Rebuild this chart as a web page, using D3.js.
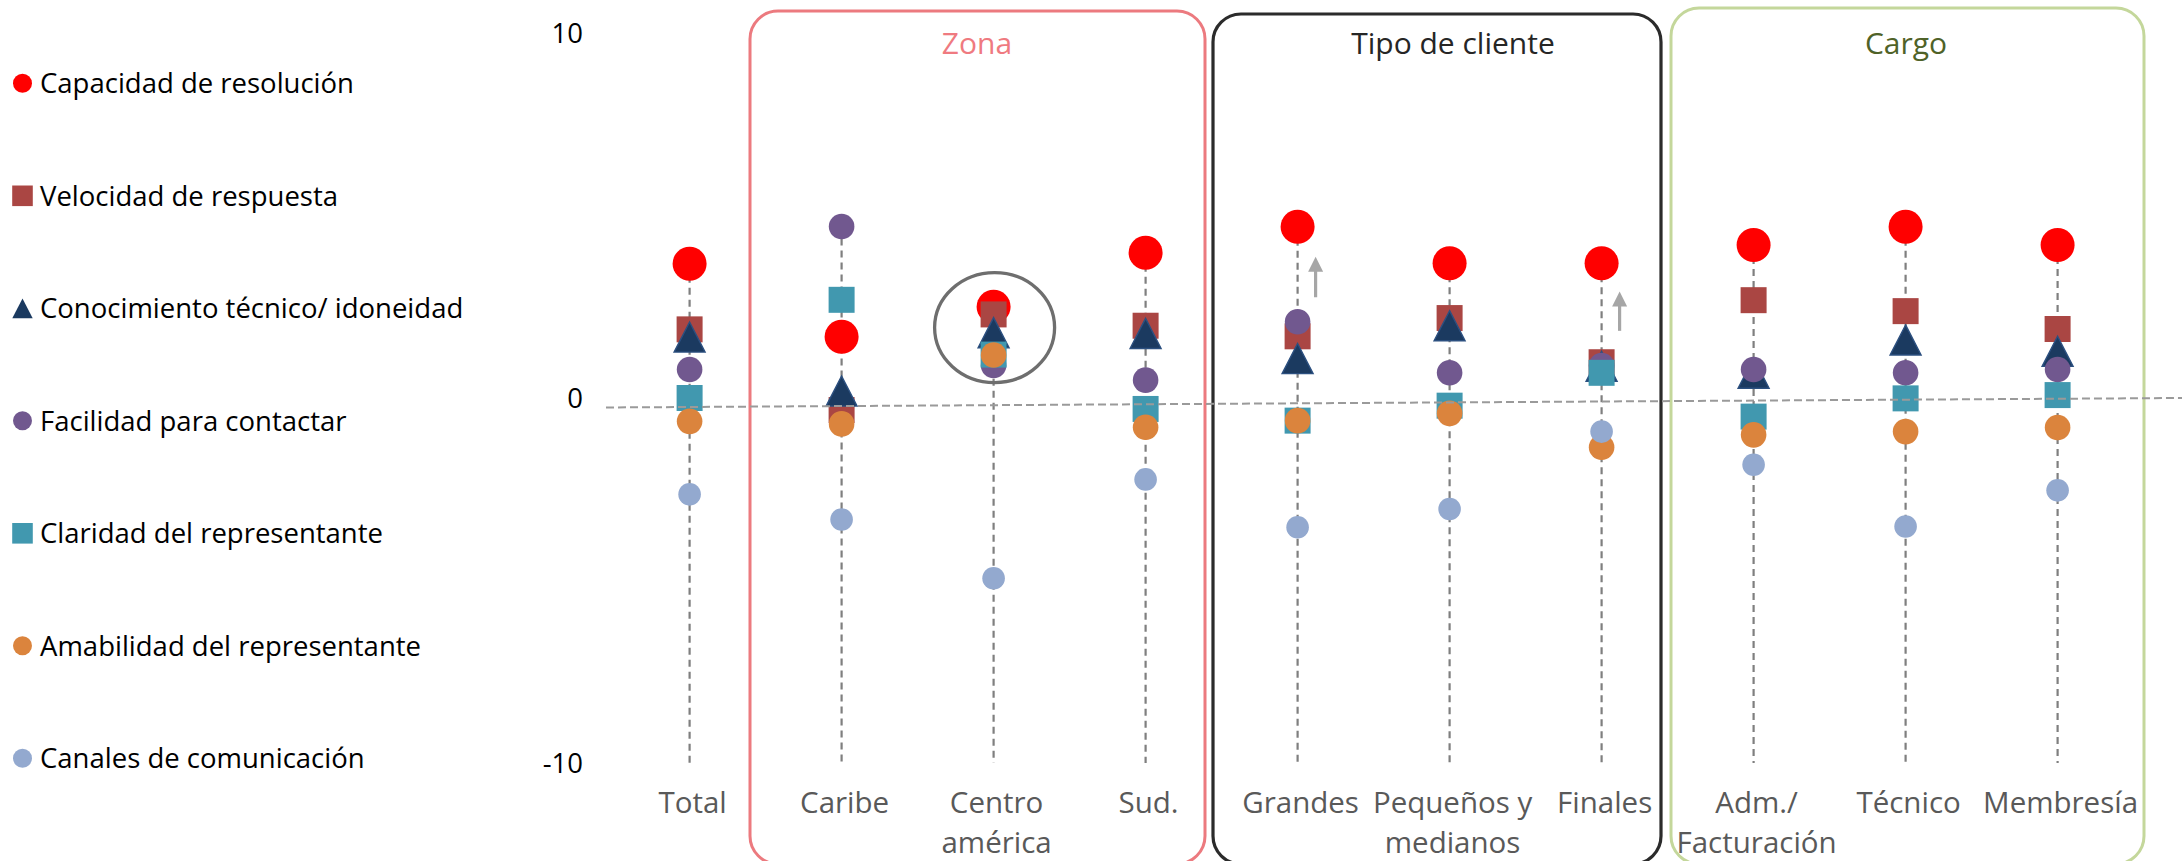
<!DOCTYPE html>
<html>
<head>
<meta charset="utf-8">
<script src="https://cdn.jsdelivr.net/npm/d3@7"></script>
<style>
  html, body { margin: 0; padding: 0; background: #fff; }
  svg { display: block; font-family: "Open Sans", "Noto Sans", sans-serif; }
</style>
</head>
<body>
<svg id="chart" width="2182" height="861"></svg>
<script>
// ---- data ----
const categories = ["Total", "Caribe", "Centro américa", "Sud.", "Grandes",
  "Pequeños y medianos", "Finales", "Adm./ Facturación", "Técnico", "Membresía"];
const categoryLabelLines = [["Total"], ["Caribe"], ["Centro", "américa"], ["Sud."], ["Grandes"],
  ["Pequeños y", "medianos"], ["Finales"], ["Adm./", "Facturación"], ["Técnico"], ["Membresía"]];
const yTicks = [-10, 0, 10];

const capacidad    = [3.68, 1.68, 2.50, 3.98, 4.69, 3.69, 3.69, 4.19, 4.69, 4.19];
const velocidad    = [1.88, -0.33, 2.29, 1.98, 1.69, 2.19, 0.98, 2.68, 2.38, 1.89];
const conocimiento = [1.67, 0.19, 1.79, 1.77, 1.08, 1.98, 0.87, 0.68, 1.59, 1.28];
const facilidad    = [0.78, 4.70, 0.89, 0.49, 2.09, 0.69, 0.89, 0.78, 0.69, 0.78];
const claridad     = [0.00, 2.69, 1.19, -0.30, -0.62, -0.21, 0.69, -0.51, -0.01, 0.08];
const amabilidad   = [-0.64, -0.71, 1.18, -0.80, -0.62, -0.42, -1.35, -1.01, -0.92, -0.81];
const canales      = [-2.64, -3.33, -4.94, -2.23, -3.54, -3.04, -0.92, -1.83, -3.52, -2.53];

const seriesNames = ["Capacidad de resolución", "Velocidad de respuesta",
  "Conocimiento técnico/ idoneidad", "Facilidad para contactar",
  "Claridad del representante", "Amabilidad del representante", "Canales de comunicación"];
const seriesValues = [capacidad, velocidad, conocimiento, facilidad, claridad, amabilidad, canales];

// group frames and their titles
const groupTitles = ["Zona", "Tipo de cliente", "Cargo"];
// arrows marking upward movement (category, value at tail, value at tip)
const arrowNotes = [
  { cat: "Grandes", from: 2.76, to: 3.87 },
  { cat: "Finales", from: 1.84, to: 2.92 }
];
// highlighted category
const highlightCat = "Centro américa";
const highlightValue = 1.93;

// ---- styles ----
const seriesColors = ["#FF0000", "#AA4643", "#1B3A60", "#71588F", "#4198AF", "#DB843D", "#93A9CF"];
const seriesShapes = ["circle", "square", "triangle", "circle", "square", "circle", "circle"];
const markerHalf   = [17, 13, 15.5, 12.8, 13, 12.8, 11.3];
const legendHalf   = [9.5, 10.3, 10.2, 9.5, 10.3, 9.5, 9.5];
const groupStyles = [
  { x0: 750,  x1: 1205, y0: 11,  stroke: "#EC7A7F", width: 3,   color: "#EF7A80", tx: 977 },
  { x0: 1213, x1: 1661, y0: 14,  stroke: "#2B2B2B", width: 3.2, color: "#262626", tx: 1453 },
  { x0: 1671, x1: 2144, y0: 8,   stroke: "#C4D79B", width: 3,   color: "#4F6228", tx: 1906 }
];

const W = 2182, H = 861;
const FS = 27.5;      // legend / axis text
const CAT_FS = 29.5;  // category labels
const CAT_LINE = 40;  // second-line offset for wrapped category labels
const svg = d3.select("#chart");
svg.append("rect").attr("width", W).attr("height", H).attr("fill", "#fff");

const x = d3.scalePoint().domain(categories).range([613.6, 2133.6]).padding(0.5);
const y = d3.scaleLinear().domain([-10, 10]).range([763, 33]);

function shapePath(shape, h) {
  if (shape === "circle") return d3.symbol(d3.symbolCircle, Math.PI * h * h)();
  if (shape === "square") return `M${-h},${-h}H${h}V${h}H${-h}Z`;
  const hh = h * 0.97;
  return `M0,${-hh}L${h},${hh}L${-h},${hh}Z`;
}

// group frames
const frames = svg.append("g");
groupTitles.forEach((t, i) => {
  const s = groupStyles[i];
  frames.append("rect")
    .attr("x", s.x0).attr("y", s.y0)
    .attr("width", s.x1 - s.x0).attr("height", 864 - s.y0)
    .attr("rx", 28).attr("ry", 28)
    .attr("fill", "none").attr("stroke", s.stroke).attr("stroke-width", s.width);
  frames.append("text")
    .attr("x", s.tx).attr("y", 54)
    .attr("text-anchor", "middle")
    .attr("font-size", 30).attr("fill", s.color)
    .text(t);
});

// y axis labels
const yAxis = d3.axisLeft(y).tickValues(yTicks).tickSize(0).tickPadding(0)
  .tickFormat(d => String(d));
const ya = svg.append("g").attr("transform", "translate(583,0)").call(yAxis);
ya.select(".domain").remove();
ya.selectAll("text").attr("font-size", FS).attr("font-family", "Open Sans")
  .attr("fill", "#000").attr("dy", "0.36em");

// category labels, one text element per line
const xl = svg.append("g");
categories.forEach((c, i) => {
  categoryLabelLines[i].forEach((ln, j) => {
    xl.append("text")
      .attr("x", x(c) + 3).attr("y", 813 + j * CAT_LINE)
      .attr("text-anchor", "middle")
      .attr("font-size", CAT_FS).attr("fill", "#595959")
      .text(ln);
  });
});

// drop lines from top marker to the axis floor
const drop = svg.append("g");
categories.forEach((c, i) => {
  const top = d3.max(seriesValues, s => s[i]);
  drop.append("line")
    .attr("x1", x(c)).attr("x2", x(c))
    .attr("y1", y(top)).attr("y2", y(-10))
    .attr("stroke", "#7F7F7F").attr("stroke-width", 2.2)
    .attr("stroke-dasharray", "7,5");
});

// markers
const marks = svg.append("g");
seriesValues.forEach((vals, si) => {
  marks.append("g").selectAll("path")
    .data(vals)
    .join("path")
    .attr("transform", (d, i) => `translate(${x(categories[i])},${y(d)})`)
    .attr("d", shapePath(seriesShapes[si], markerHalf[si]))
    .attr("fill", seriesColors[si])
    .attr("stroke", seriesShapes[si] === "triangle" ? "#2C5080" : "none")
    .attr("stroke-width", 1.4);
});

// zero reference line (slightly tilted)
svg.append("line")
  .attr("x1", 606).attr("y1", y(-0.26))
  .attr("x2", W).attr("y2", y(0))
  .attr("stroke", "#9A9A9A").attr("stroke-width", 2)
  .attr("stroke-dasharray", "8,4");

// highlight ellipse
svg.append("ellipse")
  .attr("cx", x(highlightCat) + 1).attr("cy", y(highlightValue))
  .attr("rx", 60).attr("ry", 55)
  .attr("fill", "none").attr("stroke", "#6E6E6E").attr("stroke-width", 3.3);

// upward arrows
arrowNotes.forEach(a => {
  const ax = x(a.cat) + 18;
  const tip = y(a.to), tail = y(a.from);
  svg.append("line")
    .attr("x1", ax).attr("x2", ax)
    .attr("y1", tail).attr("y2", tip + 12)
    .attr("stroke", "#A6A6A6").attr("stroke-width", 3.2);
  svg.append("path")
    .attr("d", `M${ax},${tip}L${ax + 7.5},${tip + 15}L${ax - 7.5},${tip + 15}Z`)
    .attr("fill", "#A6A6A6");
});

// legend
const lg = svg.append("g");
seriesNames.forEach((n, i) => {
  const cy = 83.3 + i * 112.5;
  lg.append("path")
    .attr("transform", `translate(22.5,${cy})`)
    .attr("d", shapePath(seriesShapes[i], legendHalf[i]))
    .attr("fill", seriesColors[i]);
  lg.append("text")
    .attr("x", 40).attr("y", cy + 9.8)
    .attr("font-size", FS).attr("fill", "#000")
    .text(n);
});
</script>
</body>
</html>
